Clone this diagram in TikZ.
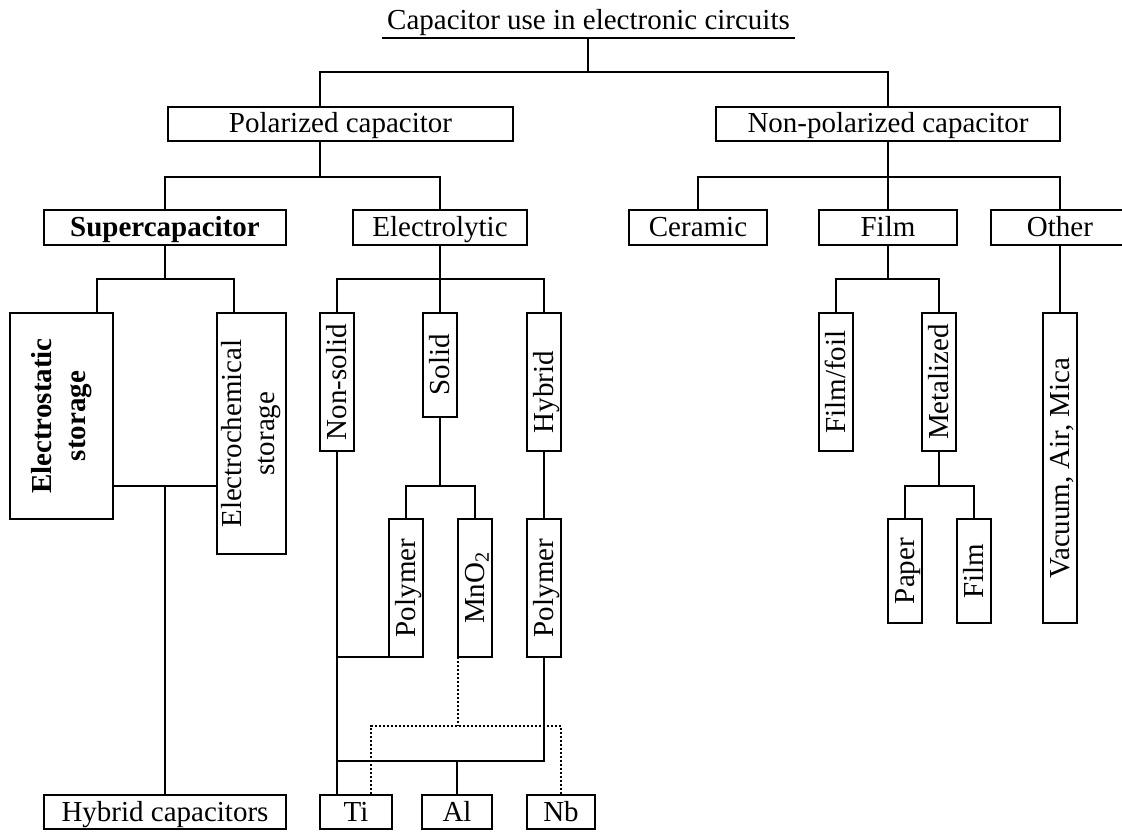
\documentclass[tikz,border=0pt]{standalone}
\usepackage{fontspec}
\setmainfont{Liberation Serif}
\begin{document}
\begin{tikzpicture}[x=1pt,y=-1pt,line width=1.4pt,
  frame/.style={draw,line width=1.4pt,inner sep=0pt,font=\fontsize{29}{33}\selectfont},
  box/.style={frame,text height=20pt,text depth=2pt},
  vbox/.style={box,rotate=90},
  vframe/.style={frame,rotate=90},
  link/.style={line width=1.4pt},
  dotlink/.style={line width=1.5pt,dash pattern=on 2pt off 2pt}]
\useasboundingbox (0,0) rectangle (1122,832);
\clip (0,0) rectangle (1122,832);
% title
\node[anchor=base,inner sep=0pt,font=\fontsize{29}{33}\selectfont] (title) at (588.5,30) {Capacitor use in electronic circuits};
\coordinate (ulL) at (382,38);
\coordinate (ulR) at (795,38);
\draw[link] (ulL) -- (ulR);
\coordinate (tb) at (588,38);
\coordinate (b0) at (588,72);
\coordinate (bL) at (320,72);
\coordinate (c1) at (320,177);
\coordinate (c2) at (97,279);
\coordinate (c2r) at (234,279);
\coordinate (c3) at (165,486);
\coordinate (c5) at (458,657);
\coordinate (c4) at (0,761);
\coordinate (dd) at (371,726);
% level 1
\node[box,minimum width=345pt,minimum height=34pt] (pol) at (340.5,124) {Polarized capacitor};
\node[box,minimum width=344pt,minimum height=34pt] (npol) at (888,124) {Non-polarized capacitor};
% level 2
\node[box,minimum width=242pt,minimum height=35pt,font=\fontsize{29}{33}\selectfont\bfseries] (sup) at (165,227.5) {Supercapacitor};
\node[box,minimum width=174pt,minimum height=35pt] (ele) at (440,227.5) {Electrolytic};
\node[box,minimum width=138pt,minimum height=35pt] (cer) at (698,227.5) {Ceramic};
\node[box,minimum width=138pt,minimum height=35pt] (film) at (888,227.5) {Film};
\node[box,minimum width=138pt,minimum height=35pt] (oth) at (1060,227.5) {Other};
% level 3
\node[vframe,minimum width=206pt,minimum height=103pt,align=center,font=\fontsize{29}{34}\selectfont\bfseries] (estat) at (61.5,416) {Electrostatic\\storage};
\node[vframe,minimum width=241pt,minimum height=69pt,align=center,font=\fontsize{29}{33}\selectfont] (echem) at (251.5,433.5) {Electrochemical\\storage};
\node[vbox,minimum width=138pt,minimum height=34pt] (nsol) at (337,382) {Non-solid};
\node[vbox,minimum width=104pt,minimum height=34pt] (sol) at (440,365) {Solid};
\node[vbox,minimum width=138pt,minimum height=34pt] (hyb) at (544,382) {Hybrid\rule{20pt}{0pt}};
\node[vbox,minimum width=138pt,minimum height=34pt] (ffoil) at (836,382) {Film/foil};
\node[vbox,minimum width=138pt,minimum height=34pt] (metal) at (939,382) {Metalized};
\node[vbox,minimum width=310pt,minimum height=34pt] (vac) at (1060,468) {Vacuum, Air, Mica};
% level 4
\node[vbox,minimum width=138pt,minimum height=34pt] (poly1) at (406,588) {Polymer};
\node[vbox,minimum width=138pt,minimum height=34pt] (mno2) at (475,588) {MnO\textsubscript{2}};
\node[vbox,minimum width=138pt,minimum height=34pt] (poly2) at (544,588) {Polymer};
\node[vbox,minimum width=104pt,minimum height=34pt] (paper) at (905,571) {Paper};
\node[vbox,minimum width=104pt,minimum height=34pt] (film2) at (974,571) {Film};
% bottom
\node[box,minimum width=242pt,minimum height=34pt] (hcap) at (165,812) {Hybrid capacitors};
\node[box,minimum width=72pt,minimum height=34pt] (ti) at (356,812) {Ti};
\node[box,minimum width=70pt,minimum height=34pt] (al) at (457,812) {Al};
\node[box,minimum width=68pt,minimum height=34pt] (nb) at (561,812) {Nb};
% connectors
\draw[link] (tb) -- (b0);
\draw[link] (pol.north -| bL) |- (npol.north |- b0) -- (npol.north);
\draw[link] (pol.south -| c1) -- (c1);
\draw[link] (sup.north) |- (ele.north |- c1) -- (ele.north);
\draw[link] (npol.south) -- (npol.south |- c1);
\draw[link] (cer.north) |- (oth.north |- c1) -- (oth.north);
\draw[link] (film.north) -- (film.north |- c1);
% supercapacitor
\draw[link] (sup.south) -- (sup.south |- c2);
\draw[link] (estat.east -| c2) |- (c2r) -- (echem.east -| c2r);
\draw[link] (estat.south |- c3) -- (echem.north |- c3);
\draw[link] (c3) -- (hcap.north);
% electrolytic
\draw[link] (ele.south) -- (ele.south |- c2);
\draw[link] (nsol.east) |- (hyb.east |- c2) -- (hyb.east);
\draw[link] (sol.east) -- (sol.east |- c2);
\draw[link] (sol.west) -- (sol.west |- c3);
\draw[link] (poly1.east) |- (mno2.east |- c3) -- (mno2.east);
\draw[link] (hyb.west) -- (poly2.east);
\draw[link] (nsol.west) -- (nsol.west |- ti.north);
\draw[link] (nsol.west |- c5) -- (poly1.west |- c5);
\draw[link] (poly2.west) |- (nsol.west |- c4);
\draw[link] (al.north |- c4) -- (al.north);
\draw[dotlink] (c5) -- (c5 |- dd);
\draw[dotlink] (dd |- ti.north) |- (nb.north |- dd) -- (nb.north);
% film / other
\draw[link] (film.south) -- (film.south |- c2);
\draw[link] (ffoil.east) |- (metal.east |- c2) -- (metal.east);
\draw[link] (metal.west) -- (metal.west |- c3);
\draw[link] (paper.east) |- (film2.east |- c3) -- (film2.east);
\draw[link] (oth.south) -- (vac.east);
\end{tikzpicture}
\end{document}
